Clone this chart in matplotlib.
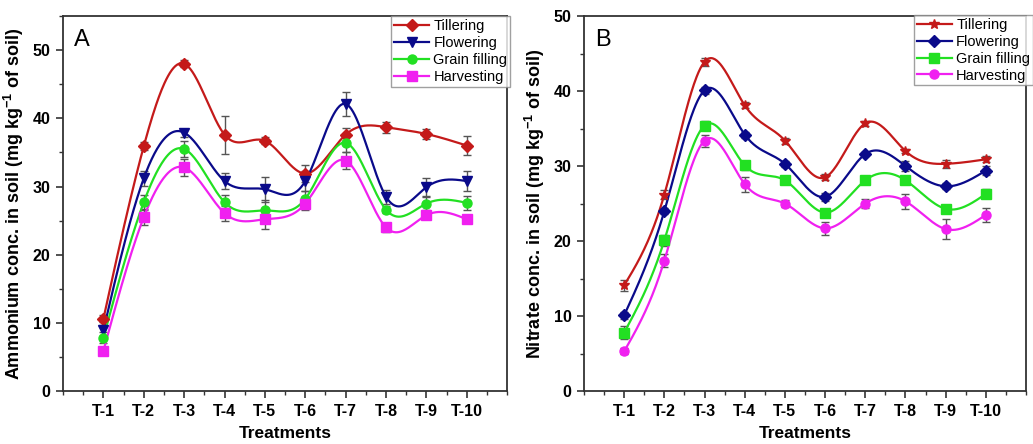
import numpy as np
import matplotlib
matplotlib.use('Agg')
import matplotlib.pyplot as plt
from matplotlib.ticker import MultipleLocator

plt.rcParams['font.family'] = ['Liberation Sans', 'DejaVu Sans']
plt.rcParams['mathtext.fontset'] = 'custom'
plt.rcParams['mathtext.bf'] = 'Liberation Sans:bold'
plt.rcParams['mathtext.rm'] = 'Liberation Sans'

treatments = ['T-1', 'T-2', 'T-3', 'T-4', 'T-5', 'T-6', 'T-7', 'T-8', 'T-9', 'T-10']
stages = ['Tillering', 'Flowering', 'Grain filling', 'Harvesting']

# Panel A - ammonium
nh4_tillering = [10.6, 35.9, 48.0, 37.6, 36.7, 31.9, 37.6, 38.7, 37.7, 36.0]
nh4_flowering = [8.9, 31.2, 37.9, 30.8, 29.6, 30.8, 42.1, 28.5, 29.9, 30.8]
nh4_grain = [7.8, 27.7, 35.5, 27.7, 26.5, 28.2, 36.4, 26.6, 27.5, 27.6]
nh4_harvest = [5.9, 25.5, 32.8, 26.1, 25.2, 27.5, 33.8, 24.0, 25.8, 25.2]
nh4_tillering_err = [0.5, 0.6, 0.5, 2.8, 0.5, 1.3, 1.0, 0.8, 0.7, 1.4]
nh4_flowering_err = [0.8, 1.1, 0.6, 1.2, 1.8, 1.5, 1.8, 1.0, 1.3, 1.5]
nh4_grain_err = [0.8, 1.0, 1.2, 1.0, 1.5, 1.2, 1.3, 0.5, 1.0, 1.0]
nh4_harvest_err = [0.4, 1.1, 1.3, 1.1, 1.4, 0.9, 1.3, 0.6, 0.6, 0.5]

# Panel B - nitrate
no3_tillering = [14.1, 26.2, 43.9, 38.1, 33.4, 28.5, 35.7, 32.0, 30.3, 30.9]
no3_flowering = [10.1, 24.0, 40.1, 34.2, 30.3, 25.9, 31.6, 30.0, 27.3, 29.4]
no3_grain = [7.8, 20.1, 35.4, 30.1, 28.1, 23.8, 28.1, 28.1, 24.3, 26.3]
no3_harvest = [5.3, 17.4, 33.4, 27.6, 25.0, 21.7, 25.0, 25.3, 21.6, 23.5]
no3_tillering_err = [0.7, 0.6, 0.5, 0.4, 0.4, 0.4, 0.3, 0.3, 0.5, 0.4]
no3_flowering_err = [0.5, 0.4, 0.5, 0.4, 0.4, 0.5, 0.3, 0.7, 0.4, 0.6]
no3_grain_err = [0.9, 0.7, 0.6, 0.6, 0.5, 0.4, 0.4, 0.5, 0.5, 0.6]
no3_harvest_err = [0.4, 0.9, 0.8, 1.0, 0.5, 0.9, 0.6, 1.0, 1.3, 0.9]

colors = ['#C41A1A', '#0A0A8A', '#22E022', '#F020F0']


def spline(x, y, n=400):
    # natural cubic spline, like Origin's spline connect
    x = np.asarray(x, float)
    y = np.asarray(y, float)
    m = len(x)
    h = np.diff(x)
    A = np.zeros((m, m))
    r = np.zeros(m)
    A[0, 0] = 1
    A[-1, -1] = 1
    for i in range(1, m - 1):
        A[i, i - 1] = h[i - 1]
        A[i, i] = 2 * (h[i - 1] + h[i])
        A[i, i + 1] = h[i]
        r[i] = 3 * ((y[i + 1] - y[i]) / h[i] - (y[i] - y[i - 1]) / h[i - 1])
    c = np.linalg.solve(A, r)
    b = (y[1:] - y[:-1]) / h - h * (2 * c[:-1] + c[1:]) / 3
    d = (c[1:] - c[:-1]) / (3 * h)
    xs = np.linspace(x[0], x[-1], n)
    idx = np.clip(np.searchsorted(x, xs) - 1, 0, m - 2)
    dx = xs - x[idx]
    ys = y[idx] + b[idx] * dx + c[idx] * dx ** 2 + d[idx] * dx ** 3
    return xs, ys


def panel(ax, series, errs, markers, msizes, ylim, label, letter, leg_anchor):
    x = np.arange(1, len(treatments) + 1)
    for vals, err, col, mk, ms, name in zip(series, errs, colors, markers, msizes, stages):
        xs, ys = spline(x, vals)
        ax.plot(xs, ys, color=col, lw=1.6, zorder=3)
        ax.errorbar(x, vals, yerr=err, fmt='none', ecolor='#555555',
                    elinewidth=1.0, capsize=3, capthick=1.0, zorder=2)
        ax.plot(x, vals, linestyle='none', marker=mk, markersize=ms,
                color=col, zorder=4)
        ax.plot([], [], color=col, marker=mk, markersize=ms, lw=1.6, label=name)

    ax.set_xlim(0, 11)
    ax.set_ylim(*ylim)
    ax.set_xticks(x)
    ax.set_xticklabels(treatments, fontweight='bold', fontsize=11.5)
    ax.xaxis.set_minor_locator(MultipleLocator(0.5))
    ax.yaxis.set_major_locator(MultipleLocator(10))
    ax.yaxis.set_minor_locator(MultipleLocator(5))
    for t in ax.get_yticklabels():
        t.set_fontweight('bold')
        t.set_fontsize(11.5)
    ax.tick_params(which='major', direction='out', length=5, width=1.2, colors='#333333',
                   labelcolor='black', top=False, right=False, pad=4)
    ax.tick_params(which='minor', direction='out', length=3, width=1.0, colors='#333333',
                   top=False, right=False)
    for sp in ax.spines.values():
        sp.set_linewidth(1.3)
        sp.set_color('#333333')
    ax.set_xlabel('Treatments', fontweight='bold', fontsize=12.5, labelpad=5)
    ax.set_ylabel(label, fontweight='bold', fontsize=13, labelpad=5)
    ax.text(0.025, 0.965, letter, transform=ax.transAxes, fontsize=17,
            va='top', ha='left')
    leg = ax.legend(loc='upper right', bbox_to_anchor=leg_anchor, fontsize=10.5,
                    frameon=True, fancybox=False, borderpad=0.2, labelspacing=0.2,
                    handlelength=2.4, handletextpad=0.3, borderaxespad=0)
    leg.get_frame().set_edgecolor('#888888')
    leg.get_frame().set_linewidth(1.0)


fig = plt.figure(figsize=(10.33, 4.44), dpi=100)
ax1 = fig.add_axes([0.061, 0.119, 0.430, 0.845])
ax2 = fig.add_axes([0.5653, 0.119, 0.428, 0.845])

panel(ax1,
      [nh4_tillering, nh4_flowering, nh4_grain, nh4_harvest],
      [nh4_tillering_err, nh4_flowering_err, nh4_grain_err, nh4_harvest_err],
      ['D', 'v', 'o', 's'], [6, 7, 6.5, 6.5], (0, 55),
      r'Ammonium conc. in soil (mg kg$^{\mathbf{-1}}$ of soil)', 'A', (1.007, 1.0))
panel(ax2,
      [no3_tillering, no3_flowering, no3_grain, no3_harvest],
      [no3_tillering_err, no3_flowering_err, no3_grain_err, no3_harvest_err],
      ['*', 'D', 's', 'o'], [7.5, 6, 6.5, 6.5], (0, 50),
      r'Nitrate conc. in soil (mg kg$^{\mathbf{-1}}$ of soil)', 'B', (1.016, 1.003))

fig.savefig('out.png', dpi=100)
